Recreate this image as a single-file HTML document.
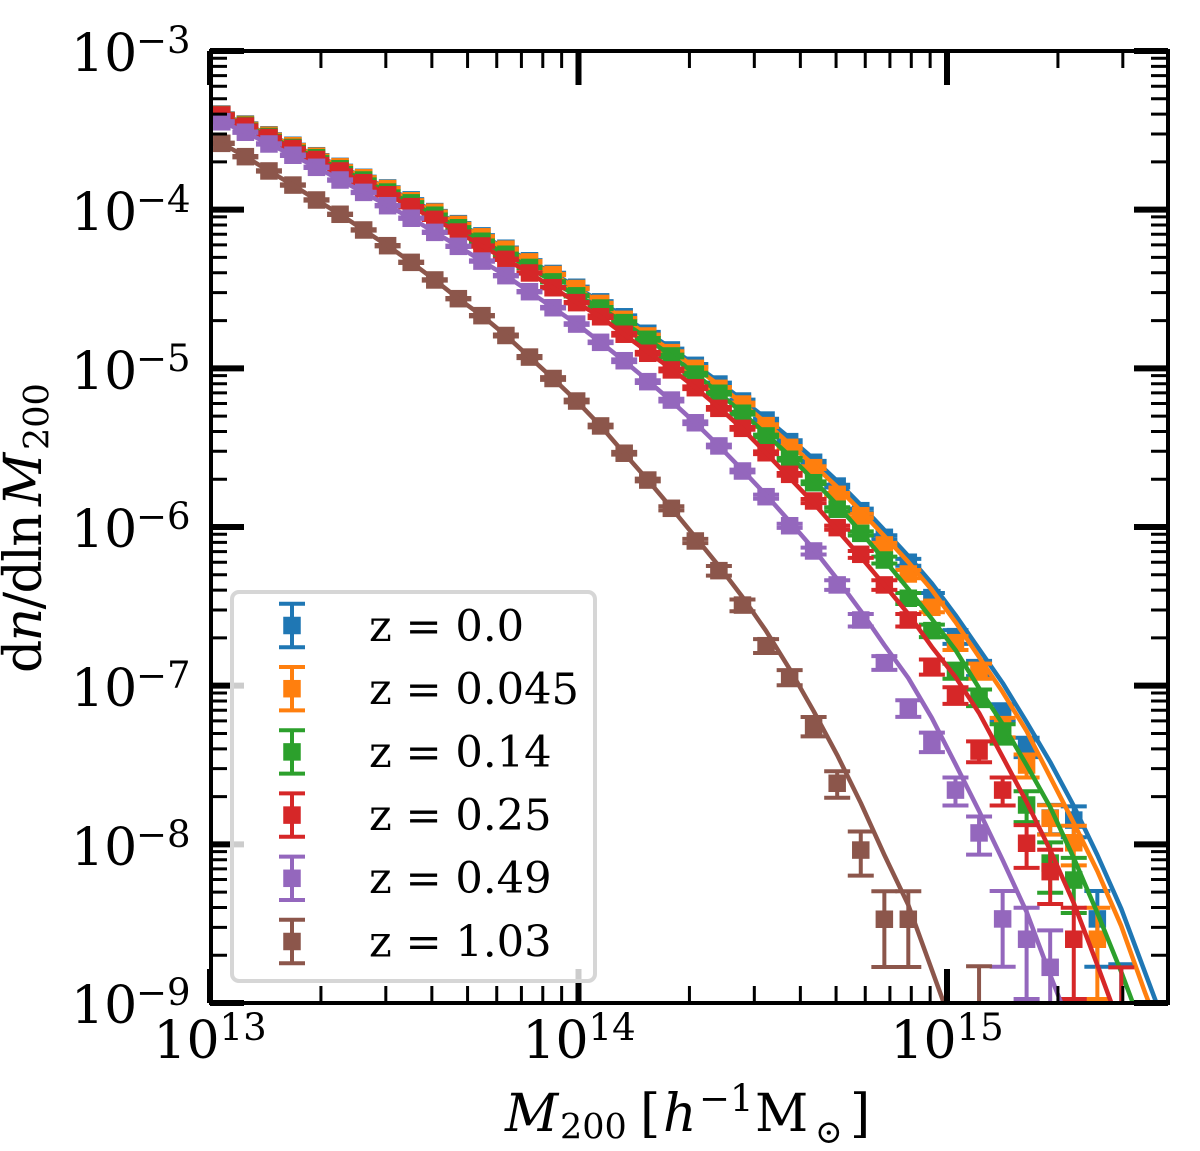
<!DOCTYPE html>
<html lang="en">
<head>
<meta charset="utf-8">
<title>Halo mass function</title>
<style>
html,body{margin:0;padding:0;background:#fff;}
svg{display:block;}
text{font-family:"DejaVu Serif","Liberation Serif",serif;fill:#000;}
</style>
</head>
<body>
<svg id="chart" xmlns="http://www.w3.org/2000/svg" width="1200" height="1151" viewBox="0 0 1200 1151">
  <defs><clipPath id="plot-clip"><rect x="210" y="51" width="958" height="952"/></clipPath></defs>
  <rect x="0" y="0" width="1200" height="1151" fill="#fff"/>
  <g id="series-layer" clip-path="url(#plot-clip)"></g>
  <g id="tick-layer"></g>
  <rect x="211" y="51" width="957" height="952" fill="none" stroke="#000" stroke-width="4"/>

  <g font-size="52">
    <text x="71" y="71">10<tspan font-size="37" dx="-1.2" dy="-18">−3</tspan></text>
    <text x="71" y="230">10<tspan font-size="37" dx="-1.2" dy="-18">−4</tspan></text>
    <text x="71" y="389">10<tspan font-size="37" dx="-1.2" dy="-18">−5</tspan></text>
    <text x="71" y="547">10<tspan font-size="37" dx="-1.2" dy="-18">−6</tspan></text>
    <text x="71" y="706">10<tspan font-size="37" dx="-1.2" dy="-18">−7</tspan></text>
    <text x="71" y="865">10<tspan font-size="37" dx="-1.2" dy="-18">−8</tspan></text>
    <text x="71" y="1023">10<tspan font-size="37" dx="-1.2" dy="-18">−9</tspan></text>
  </g>
  <g font-size="52">
    <text x="210" y="1058" text-anchor="middle">10<tspan font-size="37" dy="-18">13</tspan></text>
    <text x="579" y="1058" text-anchor="middle">10<tspan font-size="37" dy="-18">14</tspan></text>
    <text x="947" y="1058" text-anchor="middle">10<tspan font-size="37" dy="-18">15</tspan></text>
  </g>

  <text x="505" y="1131" font-size="52"><tspan font-style="italic">M</tspan><tspan x="560" y="1138.5" font-size="35">200</tspan><tspan x="640" y="1131">[</tspan><tspan x="663" y="1131" font-style="italic">h</tspan><tspan x="699" y="1111" font-size="37">−</tspan><tspan x="730" y="1111" font-size="37">1</tspan><tspan x="755" y="1131">M</tspan><tspan x="815" y="1143" font-size="33">⊙</tspan><tspan x="850" y="1131">]</tspan></text>
  <text transform="translate(41,673) rotate(-90)" font-size="52" x="0" y="0"><tspan letter-spacing="-1.6">d<tspan font-style="italic">n</tspan>/dln</tspan><tspan x="167" y="0" font-style="italic">M</tspan><tspan x="223" y="7.6" font-size="35">200</tspan></text>

  <g>
    <rect x="232" y="592" width="363" height="389" rx="7" ry="7" fill="#fff" fill-opacity="0.8" stroke="#d6d6d6" stroke-width="4"/>
    <g id="legend-handles"></g>
    <g font-size="43.2">
      <text x="369" y="641" xml:space="preserve">z = 0.0</text>
      <text x="369" y="704" xml:space="preserve">z = 0.045</text>
      <text x="369" y="767" xml:space="preserve">z = 0.14</text>
      <text x="369" y="830" xml:space="preserve">z = 0.25</text>
      <text x="369" y="893" xml:space="preserve">z = 0.49</text>
      <text x="369" y="956.5" xml:space="preserve">z = 1.03</text>
    </g>
  </g>
</svg>
<script>
// log10(M200) bin centres
const logMass = [13.032,13.096,13.160,13.225,13.289,13.353,13.417,13.482,13.546,13.610,13.674,13.738,13.803,13.867,13.931,13.995,14.060,14.124,14.188,14.252,14.317,14.381,14.445,14.509,14.573,14.638,14.702,14.766,14.830,14.895,14.959,15.023,15.087,15.151,15.216,15.280,15.344,15.408,15.473,15.537,15.601];

// log10(dn/dlnM) measured points
const pointsZ0 = [-3.397,-3.460,-3.528,-3.594,-3.660,-3.727,-3.796,-3.863,-3.938,-4.012,-4.088,-4.165,-4.243,-4.322,-4.402,-4.489,-4.581,-4.675,-4.779,-4.884,-4.981,-5.099,-5.206,-5.326,-5.462,-5.592,-5.742,-5.897,-6.065,-6.222,-6.445,-6.691,-6.889,-7.166,-7.385,-7.834,-7.847,-8.470,-9.057];
const pointsZ0045 = [-3.400,-3.463,-3.531,-3.597,-3.663,-3.730,-3.799,-3.867,-3.944,-4.016,-4.093,-4.171,-4.249,-4.329,-4.409,-4.497,-4.591,-4.691,-4.796,-4.901,-5.000,-5.126,-5.225,-5.361,-5.498,-5.626,-5.794,-5.929,-6.113,-6.296,-6.506,-6.729,-6.906,-7.260,-7.500,-7.836,-7.990,-8.598];
const pointsZ014 = [-3.403,-3.468,-3.539,-3.608,-3.673,-3.742,-3.813,-3.889,-3.957,-4.035,-4.114,-4.199,-4.281,-4.364,-4.455,-4.543,-4.620,-4.712,-4.817,-4.922,-5.036,-5.157,-5.283,-5.426,-5.573,-5.721,-5.888,-6.040,-6.208,-6.449,-6.653,-6.906,-7.073,-7.300,-7.752,-8.118,-8.225];
const pointsZ025 = [-3.403,-3.473,-3.545,-3.614,-3.684,-3.756,-3.830,-3.906,-3.981,-4.061,-4.141,-4.229,-4.313,-4.399,-4.492,-4.586,-4.675,-4.785,-4.905,-5.010,-5.122,-5.252,-5.378,-5.532,-5.668,-5.836,-6.004,-6.172,-6.365,-6.586,-6.880,-7.059,-7.412,-7.658,-7.993,-8.172,-8.598,null,-9.076];
const pointsZ049 = [-3.446,-3.512,-3.586,-3.657,-3.733,-3.813,-3.891,-3.975,-4.054,-4.143,-4.231,-4.324,-4.416,-4.517,-4.618,-4.721,-4.836,-4.952,-5.084,-5.200,-5.343,-5.489,-5.647,-5.809,-5.992,-6.151,-6.365,-6.586,-6.855,-7.141,-7.353,-7.658,-7.928,-8.470,-8.598,-8.775];
const pointsZ103 = [-3.582,-3.666,-3.756,-3.845,-3.939,-4.029,-4.128,-4.227,-4.332,-4.443,-4.561,-4.668,-4.793,-4.929,-5.064,-5.206,-5.363,-5.535,-5.704,-5.882,-6.088,-6.275,-6.492,-6.748,-6.947,-7.254,-7.615,-8.036,-8.472,-8.472,null,null,-9.069];

// fractional error on each point
const errorsZ0 = [.01,.01,.01,.01,.01,.01,.01,.01,.01,.01,.01,.01,.01,.01,.01,.01,.01,.02,.02,.02,.02,.02,.02,.02,.02,.02,.02,.03,.03,.05,.07,.1,.11,.12,.14,.21,.22,.5,1];
const errorsZ0045 = [.01,.01,.01,.01,.01,.01,.01,.01,.01,.01,.01,.01,.01,.01,.01,.01,.01,.02,.02,.02,.02,.02,.02,.02,.02,.02,.02,.03,.03,.06,.07,.1,.11,.14,.165,.21,.28,.58];
const errorsZ014 = [.01,.01,.01,.01,.01,.01,.01,.01,.01,.01,.01,.01,.01,.01,.01,.01,.015,.02,.02,.02,.02,.02,.02,.02,.02,.02,.03,.03,.05,.08,.09,.11,.12,.14,.22,.35,.38];
const errorsZ025 = [.01,.01,.01,.01,.01,.01,.01,.01,.01,.01,.01,.01,.01,.01,.01,.01,.02,.02,.02,.02,.02,.02,.02,.02,.02,.03,.03,.05,.07,.09,.11,.12,.15,.2,.3,.375,.58,null,1];
const errorsZ049 = [.01,.01,.01,.01,.01,.01,.01,.01,.01,.01,.01,.01,.01,.01,.012,.012,.012,.02,.02,.02,.02,.02,.02,.03,.03,.05,.07,.09,.1,.12,.14,.2,.27,.5,.58,.71];
const errorsZ103 = [.01,.01,.01,.01,.01,.01,.01,.01,.01,.01,.01,.01,.015,.015,.02,.02,.02,.02,.02,.03,.03,.07,.085,.1,.11,.14,.19,.31,.5,.5,null,null,1];

// log10(dn/dlnM) model curves
const curveZ0 = [-3.397,-3.460,-3.528,-3.594,-3.660,-3.727,-3.796,-3.863,-3.938,-4.012,-4.088,-4.165,-4.243,-4.322,-4.402,-4.489,-4.581,-4.675,-4.774,-4.875,-4.979,-5.086,-5.200,-5.316,-5.439,-5.571,-5.710,-5.861,-6.019,-6.183,-6.356,-6.555,-6.769,-6.983,-7.229,-7.481,-7.758,-8.067,-8.407,-8.805,-9.202];
const curveZ0045 = [-3.400,-3.463,-3.531,-3.597,-3.663,-3.730,-3.799,-3.867,-3.944,-4.016,-4.093,-4.171,-4.249,-4.329,-4.409,-4.497,-4.591,-4.692,-4.790,-4.891,-4.995,-5.105,-5.222,-5.344,-5.477,-5.609,-5.748,-5.899,-6.057,-6.221,-6.397,-6.599,-6.819,-7.040,-7.286,-7.576,-7.865,-8.168,-8.515,-8.931,-9.328];
const curveZ014 = [-3.403,-3.468,-3.539,-3.608,-3.673,-3.742,-3.813,-3.889,-3.957,-4.035,-4.114,-4.199,-4.281,-4.364,-4.455,-4.543,-4.620,-4.712,-4.815,-4.922,-5.036,-5.155,-5.281,-5.414,-5.552,-5.704,-5.861,-6.031,-6.208,-6.391,-6.580,-6.775,-7.015,-7.242,-7.500,-7.765,-8.086,-8.433,-8.805,-9.202];
const curveZ025 = [-3.403,-3.473,-3.545,-3.614,-3.684,-3.756,-3.830,-3.906,-3.981,-4.061,-4.141,-4.229,-4.313,-4.399,-4.492,-4.586,-4.675,-4.787,-4.897,-5.004,-5.121,-5.247,-5.382,-5.534,-5.691,-5.849,-6.019,-6.189,-6.365,-6.548,-6.756,-6.945,-7.172,-7.449,-7.733,-8.036,-8.370,-8.760,-9.170];
const curveZ049 = [-3.446,-3.512,-3.586,-3.657,-3.733,-3.813,-3.891,-3.975,-4.054,-4.143,-4.231,-4.324,-4.416,-4.517,-4.618,-4.721,-4.836,-4.954,-5.077,-5.206,-5.344,-5.489,-5.641,-5.798,-5.965,-6.139,-6.328,-6.529,-6.744,-6.952,-7.204,-7.494,-7.790,-8.099,-8.426,-8.823,-9.202];
const curveZ103 = [-3.582,-3.666,-3.756,-3.845,-3.939,-4.029,-4.128,-4.227,-4.332,-4.443,-4.561,-4.668,-4.793,-4.929,-5.064,-5.206,-5.363,-5.535,-5.704,-5.880,-6.063,-6.246,-6.441,-6.655,-6.895,-7.160,-7.437,-7.739,-8.067,-8.382,-8.792,-9.202];

const seriesNames = ['z-0','z-0045','z-014','z-025','z-049','z-103'];
const seriesColors = ['#1f77b4','#ff7f0e','#2ca02c','#d62728','#9467bd','#8c564b'];
const seriesPoints = [pointsZ0,pointsZ0045,pointsZ014,pointsZ025,pointsZ049,pointsZ103];
const seriesErrors = [errorsZ0,errorsZ0045,errorsZ014,errorsZ025,errorsZ049,errorsZ103];
const seriesCurves = [curveZ0,curveZ0045,curveZ014,curveZ025,curveZ049,curveZ103];
const xMajorTicks = [13,14,15];
const yMajorTicks = [-3,-4,-5,-6,-7,-8,-9];
const minorMultipliers = [2,3,4,5,6,7,8,9];

const NS = 'http://www.w3.org/2000/svg';
const xScale = function (logM) { return 210 + (logM - 13) * 368.5; };
const yScale = function (logN) { return 51 + (-3 - logN) * 158.67; };
const PLOT = { left: 210, right: 1168, top: 51, bottom: 1003 };

function shape(parent, tag, attrs) {
  const el = document.createElementNS(NS, tag);
  for (const k in attrs) el.setAttribute(k, attrs[k]);
  parent.appendChild(el);
  return el;
}

const tickLayer = document.getElementById('tick-layer');
function xTick(x, len, w) {
  const a = shape(tickLayer, 'line', { x1: x, x2: x, y1: PLOT.bottom, y2: PLOT.bottom - len, stroke: '#000', 'stroke-width': w });
  
  
  const b = shape(tickLayer, 'line', { x1: x, x2: x, y1: PLOT.top, y2: PLOT.top + len, stroke: '#000', 'stroke-width': w });
  
  
}
function yTick(y, len, w) {
  const a = shape(tickLayer, 'line', { x1: PLOT.left, x2: PLOT.left + len, y1: y, y2: y, stroke: '#000', 'stroke-width': w });
  
  
  const b = shape(tickLayer, 'line', { x1: PLOT.right, x2: PLOT.right - len, y1: y, y2: y, stroke: '#000', 'stroke-width': w });
  
  
}
xMajorTicks.forEach(function (e) {
  xTick(xScale(e), 34, 6);
  minorMultipliers.forEach(function (m) {
    const x = xScale(e + Math.log10(m));
    if (x < PLOT.right) xTick(x, 17, 3);
  });
});
yMajorTicks.forEach(function (e) {
  yTick(yScale(e), 34, 6);
  if (e === -9) return;
  minorMultipliers.forEach(function (m) {
    yTick(yScale(e - 1 + Math.log10(m)), 17, 3);
  });
});

const MARKER = 17.5, CAP = 13, LW = 4, CURVE_LW = 4.5;
const seriesLayer = document.getElementById('series-layer');
seriesNames.forEach(function (name, s) {
  const color = seriesColors[s];
  const group = shape(seriesLayer, 'g', {});
  
  

  seriesPoints[s].forEach(function (v, i) {
    if (v === null) return;
    const f = seriesErrors[s][i];
    const x = xScale(logMass[i]);
    const y = yScale(v);
    const yUp = yScale(v + Math.log10(1 + f));
    const yLow = f < 1 ? yScale(v + Math.log10(1 - f)) : PLOT.bottom + 100;
    const bar = shape(group, 'path', {
      d: 'M' + x + ' ' + yUp + 'V' + yLow +
         'M' + (x - CAP) + ' ' + yUp + 'H' + (x + CAP) +
         'M' + (x - CAP) + ' ' + yLow + 'H' + (x + CAP),
      stroke: color, 'stroke-width': LW, fill: 'none'
    });
    
    
    const mark = shape(group, 'rect', { x: x - MARKER / 2, y: y - MARKER / 2, width: MARKER, height: MARKER, fill: color });
    
    
  });

  const d = seriesCurves[s].map(function (v, i) {
    return (i ? 'L' : 'M') + xScale(logMass[i]).toFixed(2) + ' ' + yScale(v).toFixed(2);
  }).join('');
  const curve = shape(group, 'path', { d: d, stroke: color, 'stroke-width': CURVE_LW, fill: 'none', 'stroke-linejoin': 'round' });
  
  
});

const legendHandles = document.getElementById('legend-handles');
seriesNames.forEach(function (name, s) {
  const color = seriesColors[s];
  const cx = 292, cy = 625.5 + s * 63.2, h = 21.7;
  const g = shape(legendHandles, 'g', {});
  
  
  shape(g, 'path', {
    d: 'M' + cx + ' ' + (cy - h) + 'V' + (cy + h) +
       'M' + (cx - CAP) + ' ' + (cy - h) + 'H' + (cx + CAP) +
       'M' + (cx - CAP) + ' ' + (cy + h) + 'H' + (cx + CAP),
    stroke: color, 'stroke-width': LW, fill: 'none'
  });
  shape(g, 'rect', { x: cx - MARKER / 2, y: cy - MARKER / 2, width: MARKER, height: MARKER, fill: color });
});
</script>
</body>
</html>
